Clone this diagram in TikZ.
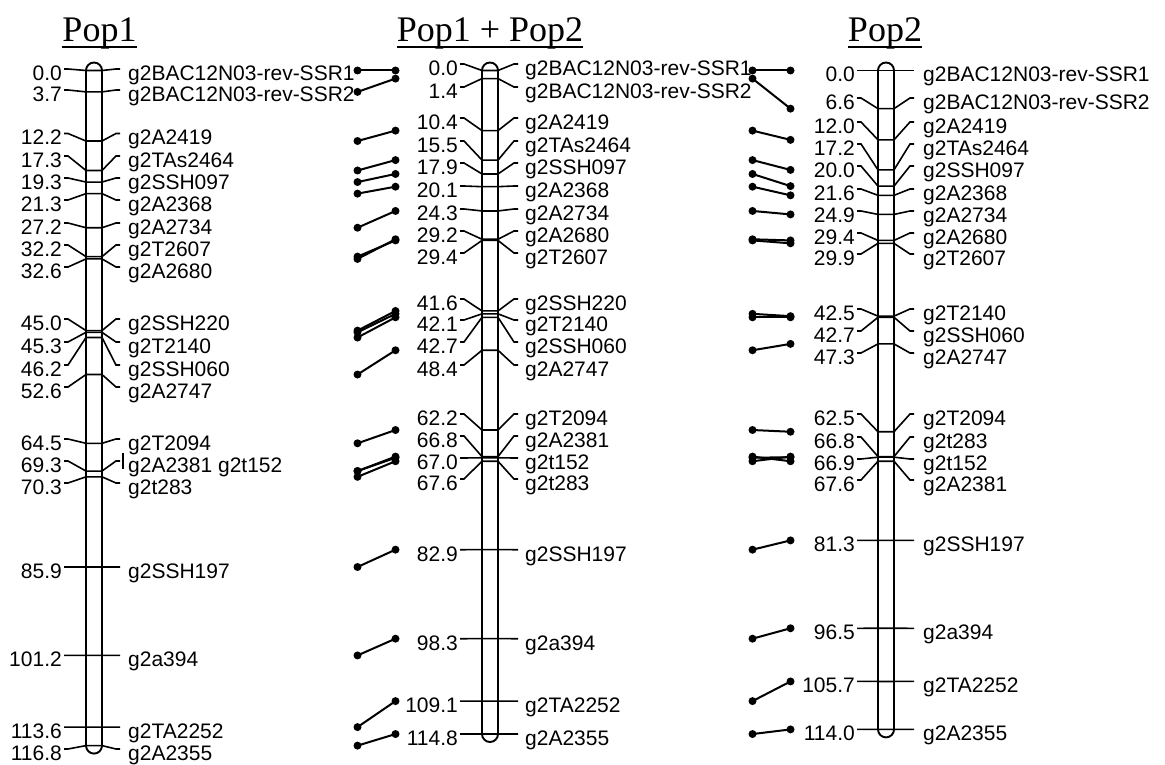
\documentclass[tikz,border=0pt]{standalone}
\usepackage{fontspec}
\setmainfont{Liberation Sans}
\newfontfamily\hdfont{Liberation Serif}
\newcommand\mapfont{\fontsize{21}{22}\selectfont}

\tikzset{
  chrom/.style={line width=1.9pt, rounded corners=8pt},
  tick/.style={line width=1.6pt},
  cmlab/.style={anchor=base east, inner sep=0pt, font=\mapfont},
  mklab/.style={anchor=base west, inner sep=0pt, font=\mapfont},
  hd/.style={anchor=base, inner sep=0pt, font=\hdfont\fontsize{36}{40}\selectfont},
  link/.style={line width=2pt}
}

\begin{document}
\begin{tikzpicture}[x=1pt, y=-1pt]
\useasboundingbox (0,0) rectangle (1165,765);

\node[hd] (h1) at (99.5,42) {Pop1};
\node[hd] (h2) at (490,42) {Pop1 + Pop2};
\node[hd] (h3) at (885,42) {Pop2};
\foreach \h in {h1,h2,h3}
  \draw[line width=2.5pt] ([yshift=-5pt]\h.base west) -- ([yshift=-5pt]\h.base east);

\draw[chrom] (86,62.5) rectangle (102,753.6);
\foreach \pos/\ly/\mname [count=\i] in {
  0.0/69/g2BAC12N03-rev-SSR1, 3.7/90/g2BAC12N03-rev-SSR2,
  12.2/133.5/g2A2419, 17.3/156/g2TAs2464, 19.3/178/g2SSH097,
  21.3/200/g2A2368, 27.2/223/g2A2734, 32.2/245/g2T2607,
  32.6/267/g2A2680, 45.0/319/g2SSH220, 45.3/342/g2T2140,
  46.2/365/g2SSH060, 52.6/387/g2A2747, 64.5/439/g2T2094,
  69.3/461/g2A2381 g2t152, 70.3/483/g2t283, 85.9/567/g2SSH197,
  101.2/655.4/g2a394, 113.6/727.1/g2TA2252, 116.8/749/g2A2355}{
  \pgfmathsetmacro\a{70.5+5.78*\pos}
  \draw[tick] (64,\ly) -- (68,\ly) -- (86,\a) -- (102,\a) -- (116,\ly) -- (120,\ly);
  \node[cmlab] (pa\i) at (62,\ly+11.5) {\pos};
  \node[mklab] (pb\i) at (128,\ly+11.5) {\mname};
  \coordinate (ra\i) at (357.5,\a);
}
\draw[line width=2.2pt] (123,453) -- (123,469);

\draw[chrom] (482,62.5) rectangle (498,742);
\foreach \pos/\ly/\mname [count=\i] in {
  0.0/64/g2BAC12N03-rev-SSR1, 1.4/87/g2BAC12N03-rev-SSR2,
  10.4/118/g2A2419, 15.5/141/g2TAs2464, 17.9/163/g2SSH097,
  20.1/186/g2A2368, 24.3/209/g2A2734, 29.2/231/g2A2680,
  29.4/253/g2T2607, 41.6/299/g2SSH220, 42.1/320/g2T2140,
  42.7/342/g2SSH060, 48.4/365/g2A2747, 62.2/414/g2T2094,
  66.8/436/g2A2381, 67.0/458/g2t152, 67.6/479/g2t283,
  82.9/549.7/g2SSH197, 98.3/638.7/g2a394, 109.1/701.1/g2TA2252,
  114.8/734/g2A2355}{
  \pgfmathsetmacro\a{70.5+5.78*\pos}
  \draw[tick] (460,\ly) -- (464,\ly) -- (482,\a) -- (498,\a) -- (514,\ly) -- (518,\ly);
  \node[cmlab] (ma\i) at (458,\ly+11.5) {\pos};
  \node[mklab] (mb\i) at (525,\ly+11.5) {\mname};
  \coordinate (rb\i) at (395.5,\a);
  \coordinate (rc\i) at (752.5,\a);
}

\draw[chrom] (878,62.5) rectangle (894,737.4);
\foreach \pos/\ly/\mname [count=\i] in {
  0.0/70.5/g2BAC12N03-rev-SSR1, 6.6/98/g2BAC12N03-rev-SSR2,
  12.0/122/g2A2419, 17.2/144/g2TAs2464, 20.0/166/g2SSH097,
  21.6/189/g2A2368, 24.9/211/g2A2734, 29.4/233/g2A2680,
  29.9/254/g2T2607, 42.5/309/g2T2140, 42.7/331/g2SSH060,
  47.3/353/g2A2747, 62.5/414/g2T2094, 66.8/437/g2t283,
  66.9/459/g2t152, 67.6/480/g2A2381, 81.3/540.4/g2SSH197,
  96.5/628.3/g2a394, 105.7/681.4/g2TA2252, 114.0/729.4/g2A2355}{
  \pgfmathsetmacro\a{70.5+5.78*\pos}
  \draw[tick] (857,\ly) -- (861,\ly) -- (878,\a) -- (894,\a) -- (910,\ly) -- (914,\ly);
  \node[cmlab] (qa\i) at (855,\ly+11.5) {\pos};
  \node[mklab] (qb\i) at (923,\ly+11.5) {\mname};
  \coordinate (rd\i) at (790.5,\a);
}

\foreach \i/\j in {1/1,2/2,3/3,4/4,5/5,6/6,7/7,8/9,9/8,10/10,11/11,12/12,
  13/13,14/14,15/15,15/16,16/17,17/18,18/19,19/20,20/21}{
  \draw[link] (ra\i) -- (rb\j);
  \fill (ra\i) circle[radius=4pt] (rb\j) circle[radius=4pt];
}
\foreach \i/\j in {1/1,2/2,3/3,4/4,5/5,6/6,7/7,8/8,9/9,11/10,12/11,13/12,
  14/13,15/16,16/15,17/14,18/17,19/18,20/19,21/20}{
  \draw[link] (rc\i) -- (rd\j);
  \fill (rc\i) circle[radius=4pt] (rd\j) circle[radius=4pt];
}
\end{tikzpicture}
\end{document}
